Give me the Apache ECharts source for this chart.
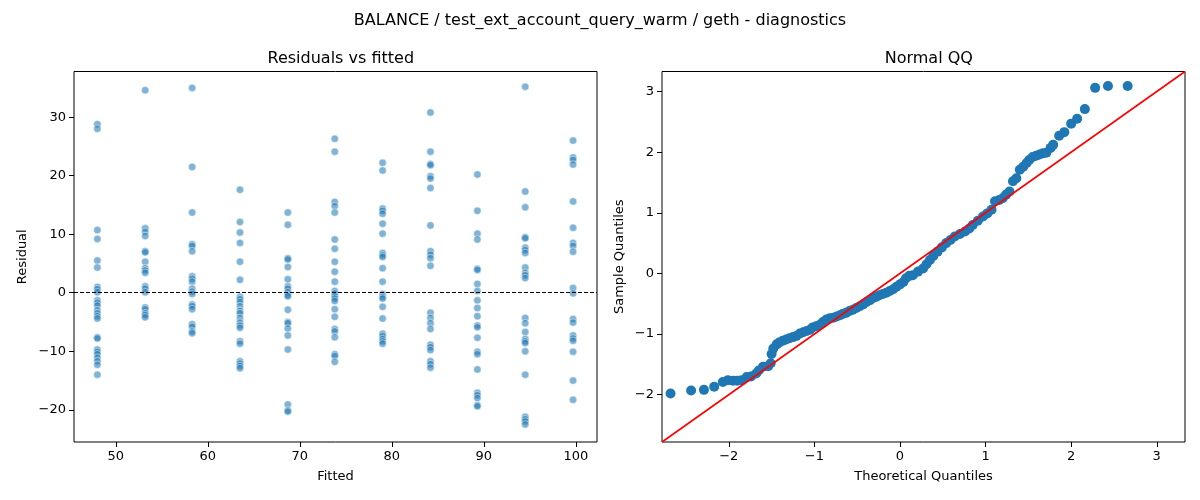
<!DOCTYPE html>
<html>
<head>
    <meta charset="utf-8">
    <style>
        body{
            width: 1200px;
            height: 500px;
            margin: 0;
            padding: 0;
            background: #fff;
        }
        #chart{
            width: 1200px;
            height: 500px;
        }
    </style>
</head>
<body>
    <div id="chart"></div>
    <script src="https://cdn.jsdelivr.net/npm/echarts@6/dist/echarts.min.js"></script>
    <script>
        // fitted value of each column in the left panel
        var fittedLevels = [48.0, 53.2, 58.3, 63.5, 68.7, 73.8, 79.0, 84.2, 89.3, 94.5, 99.7];

        // residuals read per column
        var res48 = [28.8, 28.0, 10.7, 9.2, 5.5, 4.3, 1.0, 0.6, 0.1, -1.3, -1.7, -2.2, -3.0, -3.5, -4.0, -4.4, -7.6, -7.8, -9.7, -10.1, -10.5, -11.1, -11.7, -12.3, -14.0];
        var res53 = [34.6, 11.0, 10.4, 9.7, 7.1, 6.9, 5.3, 4.2, 3.8, 3.4, 1.1, 0.7, 0.1, -2.5, -2.8, -3.5, -3.8, -4.2];
        var res58 = [35.0, 21.5, 13.7, 8.3, 8.0, 7.1, 2.8, 2.4, 1.9, 0.7, 0.2, -0.2, -2.0, -2.3, -2.8, -5.4, -5.8, -6.6, -6.9];
        var res63 = [17.6, 12.1, 10.3, 8.5, 5.3, 2.2, -0.7, -1.1, -1.6, -2.3, -3.1, -3.5, -4.3, -5.1, -5.6, -6.0, -8.3, -8.7, -11.7, -12.1, -12.5, -12.9];
        var res69 = [13.7, 11.6, 5.9, 5.7, 4.4, 2.3, 1.1, 0.7, 0.1, -0.4, -0.6, -2.9, -5.0, -5.2, -6.1, -7.3, -9.7, -19.1, -20.1, -20.3];
        var res74 = [26.3, 24.1, 15.5, 14.8, 13.7, 9.1, 7.5, 5.3, 3.6, 1.9, 0.3, -0.1, -0.6, -1.0, -1.4, -2.8, -4.1, -6.2, -6.6, -7.6, -10.5, -10.8, -11.8];
        var res79 = [22.2, 20.9, 14.4, 14.0, 13.5, 11.8, 10.1, 6.8, 6.4, 6.1, 4.2, 1.9, -0.2, -0.7, -1.0, -2.4, -4.4, -7.0, -7.4, -7.9, -8.3, -8.7];
        var res84 = [30.8, 24.1, 22.0, 21.8, 19.9, 19.5, 17.9, 11.5, 7.1, 6.5, 5.9, 4.6, -3.4, -4.3, -5.2, -6.2, -8.9, -9.3, -9.8, -11.7, -12.2, -12.8];
        var res89 = [20.2, 14.0, 10.1, 9.1, 4.1, 3.9, 1.5, 0.3, -1.3, -2.6, -4.0, -5.6, -5.9, -7.7, -10.1, -10.5, -13.1, -17.1, -17.5, -18.0, -19.2, -19.4];
        var res94 = [35.2, 17.3, 14.6, 9.5, 9.3, 7.7, 7.3, 6.8, 4.3, 3.4, 3.0, 2.5, -4.3, -5.2, -6.7, -7.9, -8.3, -8.6, -10.0, -14.0, -21.2, -21.6, -22.0, -22.5];
        var res100 = [26.0, 23.1, 22.7, 21.9, 15.6, 11.1, 8.5, 8.0, 7.0, 0.8, -0.1, -4.5, -5.1, -7.3, -7.8, -8.2, -10.1, -15.0, -18.3];

        // normal QQ points
        var qqTheoretical = [-2.68, -2.44, -2.29, -2.17, -2.07, -2.01, -1.95, -1.90, -1.85, -1.79, -1.74, -1.68, -1.65, -1.60, -1.54, -1.51, -1.50, -1.48,
            -1.44, -1.41, -1.37, -1.33, -1.29, -1.25, -1.21, -1.17, -1.13, -1.09, -1.05, -1.02, -0.98, -0.94, -0.90, -0.86, -0.82, -0.78, -0.74, -0.70,
            -0.67, -0.63, -0.59, -0.55, -0.51, -0.47, -0.43, -0.39, -0.35, -0.32, -0.28, -0.24, -0.20, -0.16, -0.12, -0.08, -0.04, 0.00, 0.04, 0.07,
            0.11, 0.15, 0.21, 0.27, 0.31, 0.35, 0.39, 0.44, 0.49, 0.54, 0.59, 0.64, 0.70, 0.76, 0.81, 0.85, 0.91, 0.97, 1.02, 1.07, 1.11, 1.16, 1.20,
            1.24, 1.28, 1.32, 1.36, 1.40, 1.44, 1.48, 1.51, 1.55, 1.59, 1.63, 1.67, 1.71, 1.76, 1.79, 1.86, 1.92, 2.00, 2.07, 2.16, 2.28, 2.43, 2.66];
        var qqSample = [-1.98, -1.93, -1.92, -1.87, -1.79, -1.76, -1.77, -1.77, -1.76, -1.71, -1.70, -1.65, -1.60, -1.54, -1.53, -1.48, -1.33, -1.24,
            -1.17, -1.14, -1.11, -1.09, -1.07, -1.05, -1.03, -0.99, -0.97, -0.95, -0.93, -0.89, -0.87, -0.85, -0.80, -0.76, -0.74, -0.73, -0.71, -0.69,
            -0.67, -0.65, -0.62, -0.60, -0.57, -0.54, -0.51, -0.47, -0.44, -0.41, -0.39, -0.36, -0.34, -0.32, -0.29, -0.26, -0.22, -0.18, -0.14, -0.08,
            -0.04, -0.03, 0.03, 0.08, 0.15, 0.22, 0.29, 0.36, 0.43, 0.50, 0.55, 0.61, 0.65, 0.69, 0.74, 0.80, 0.87, 0.94, 0.99, 1.05, 1.19, 1.21, 1.24,
            1.30, 1.35, 1.52, 1.57, 1.71, 1.76, 1.82, 1.87, 1.92, 1.94, 1.96, 1.98, 1.99, 2.07, 2.12, 2.27, 2.33, 2.47, 2.55, 2.71, 3.06, 3.09, 3.09];

        // 45 degree reference line ends (axis limits)
        var qqLimits = [-2.78, 3.33];

        var fittedTicks = [50, 60, 70, 80, 90, 100];
        var residualTicks = [-20, -10, 0, 10, 20, 30];
        var qqTicks = [-2, -1, 0, 1, 2, 3];
    </script>
    <script>
        var chart = echarts.init(document.getElementById('chart'));
        var FONT = 'DejaVu Sans';

        var columns = [res48, res53, res58, res63, res69, res74, res79, res84, res89, res94, res100];
        var residPoints = [];
        for (var i = 0; i < columns.length; i++) {
            for (var j = 0; j < columns[i].length; j++) {
                residPoints.push([fittedLevels[i], columns[i][j]]);
            }
        }
        var qqPoints = [];
        for (var k = 0; k < qqTheoretical.length; k++) {
            qqPoints.push([qqTheoretical[k], qqSample[k]]);
        }

        function minus(v){
            return String(v).replace('-', '\u2212');
        }

        function valueAxis(opt){
            return {
                type: 'value',
                gridIndex: opt.grid,
                min: opt.min,
                max: opt.max,
                name: opt.name,
                nameLocation: 'middle',
                nameGap: opt.nameGap,
                nameTextStyle: { fontFamily: FONT, fontSize: 13, color: '#000' },
                axisLine: { show: false, onZero: false },
                axisTick: { show: true, length: 5, lineStyle: { color: '#000', width: 1 }, customValues: opt.ticks },
                axisLabel: { fontFamily: FONT, fontSize: 13, color: '#000', margin: 8, formatter: minus, customValues: opt.ticks, showMinLabel: true, showMaxLabel: true },
                splitLine: { show: false }
            };
        }

        var titleStyle = { fontFamily: FONT, fontSize: 16, fontWeight: 'normal', color: '#000' };

        var option = {
            backgroundColor: '#fff',
            animation: false,
            title: [
                { text: 'BALANCE / test_ext_account_query_warm / geth - diagnostics', left: 'center', top: 8, textStyle: titleStyle },
                { text: 'Residuals vs fitted', left: 335.8, top: 46, textAlign: 'center', textStyle: titleStyle },
                { text: 'Normal QQ', left: 923.8, top: 46, textAlign: 'center', textStyle: titleStyle }
            ],
            grid: [
                { left: 74, top: 71.5, width: 523, height: 370.5, show: true, borderColor: '#000', borderWidth: 1, backgroundColor: 'transparent' },
                { left: 662, top: 71.5, width: 523, height: 370.5, show: true, borderColor: '#000', borderWidth: 1, backgroundColor: 'transparent' }
            ],
            xAxis: [
                valueAxis({ grid: 0, min: 45.46, max: 102.3, ticks: fittedTicks, name: 'Fitted', nameGap: 28 }),
                valueAxis({ grid: 1, min: qqLimits[0], max: qqLimits[1], ticks: qqTicks, name: 'Theoretical Quantiles', nameGap: 28 })
            ],
            yAxis: [
                valueAxis({ grid: 0, min: -25.5, max: 37.8, ticks: residualTicks, name: 'Residual', nameGap: 45 }),
                valueAxis({ grid: 1, min: qqLimits[0], max: qqLimits[1], ticks: qqTicks, name: 'Sample Quantiles', nameGap: 36 })
            ],
            series: [
                {
                    type: 'scatter',
                    xAxisIndex: 0,
                    yAxisIndex: 0,
                    symbolSize: 7.5,
                    itemStyle: { color: 'rgba(31,119,180,0.7)', borderColor: '#fff', borderWidth: 0.6 },
                    data: residPoints,
                    z: 2,
                    markLine: {
                        silent: true,
                        symbol: 'none',
                        label: { show: false },
                        lineStyle: { color: '#000', type: [4, 2], width: 1.1 },
                        data: [{ yAxis: 0 }],
                        z: 5
                    }
                },
                {
                    type: 'scatter',
                    xAxisIndex: 1,
                    yAxisIndex: 1,
                    symbolSize: 10,
                    itemStyle: { color: '#1f77b4', opacity: 1 },
                    data: qqPoints,
                    z: 2
                },
                {
                    type: 'line',
                    xAxisIndex: 1,
                    yAxisIndex: 1,
                    symbol: 'none',
                    lineStyle: { color: '#ff0000', width: 1.6 },
                    data: [[qqLimits[0], qqLimits[0]], [qqLimits[1], qqLimits[1]]],
                    z: 4
                }
            ]
        };

        chart.setOption(option);
    </script>
</body>
</html>
